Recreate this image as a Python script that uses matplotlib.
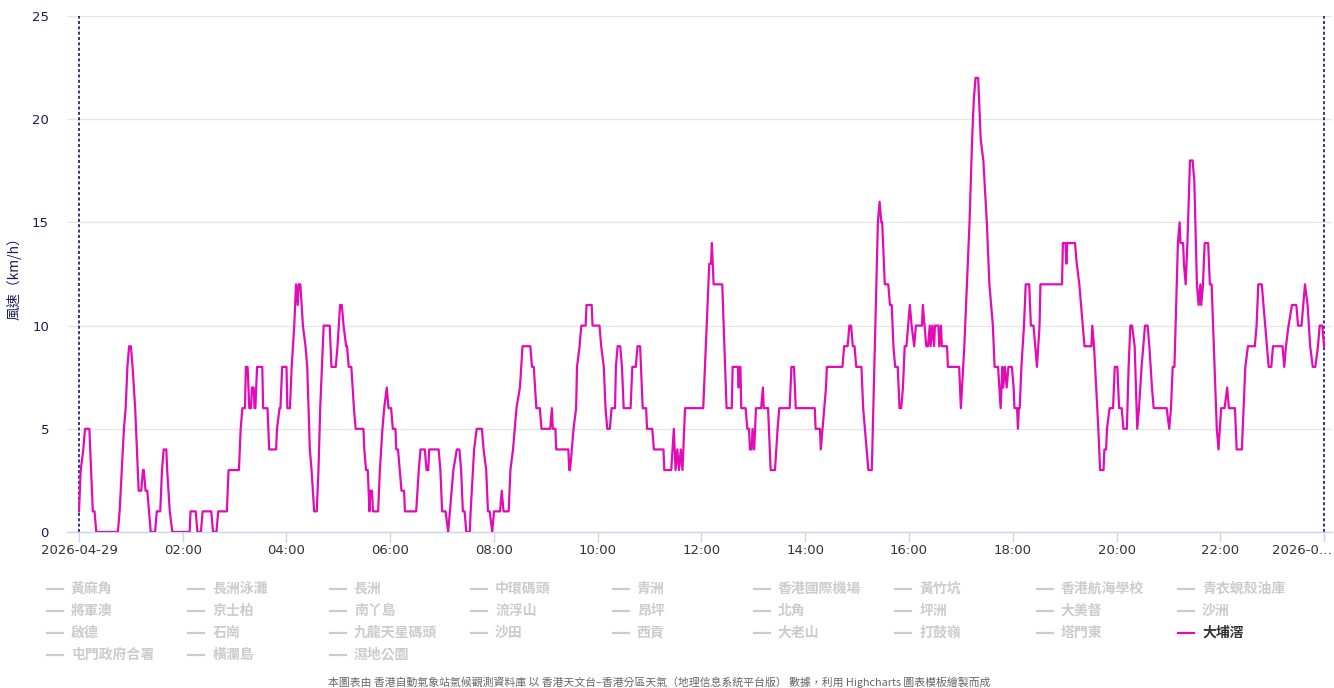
import matplotlib.pyplot as plt
from matplotlib.lines import Line2D
from matplotlib.transforms import ScaledTranslation

plt.rcParams["font.family"] = ["Noto Sans CJK TC", "DejaVu Sans"]

# 大埔滘 wind speed (km/h), 2026-04-29, one entry per change of the reading
times = [
    "00:00", "00:02", "00:05", "00:07", "00:12", "00:13", "00:16", "00:18", "00:20", "00:45",
    "00:47", "00:52", "00:54", "00:56", "00:58", "01:00", "01:02", "01:05", "01:09", "01:12",
    "01:14", "01:15", "01:17", "01:19", "01:21", "01:23", "01:28", "01:30", "01:34", "01:36",
    "01:38", "01:41", "01:42", "01:45", "01:48", "02:08", "02:09", "02:15", "02:17", "02:21",
    "02:23", "02:33", "02:35", "02:39", "02:41", "02:51", "02:53", "03:05", "03:06", "03:07",
    "03:09", "03:12", "03:13", "03:15", "03:17", "03:19", "03:20", "03:22", "03:23", "03:24",
    "03:26", "03:32", "03:33", "03:38", "03:40", "03:48", "03:49", "03:52", "03:53", "03:55",
    "04:00", "04:01", "04:04", "04:06", "04:09", "04:11", "04:13", "04:14", "04:16", "04:19",
    "04:22", "04:24", "04:27", "04:29", "04:32", "04:35", "04:37", "04:39", "04:43", "04:50",
    "04:52", "04:57", "04:59", "05:02", "05:04", "05:06", "05:09", "05:10", "05:12", "05:15",
    "05:18", "05:20", "05:29", "05:30", "05:32", "05:34", "05:36", "05:37", "05:39", "05:40",
    "05:46", "05:48", "05:51", "05:53", "05:56", "05:58", "06:01", "06:03", "06:06", "06:07",
    "06:09", "06:11", "06:13", "06:16", "06:17", "06:30", "06:33", "06:35", "06:40", "06:42",
    "06:44", "06:45", "06:56", "06:58", "07:00", "07:04", "07:07", "07:09", "07:13", "07:17",
    "07:20", "07:22", "07:24", "07:26", "07:28", "07:32", "07:33", "07:37", "07:40", "07:46",
    "07:48", "07:51", "07:53", "07:55", "07:58", "08:00", "08:07", "08:09", "08:11", "08:17",
    "08:19", "08:22", "08:26", "08:30", "08:33", "08:42", "08:44", "08:46", "08:49", "08:53",
    "08:55", "09:05", "09:07", "09:08", "09:11", "09:12", "09:26", "09:27", "09:28", "09:30",
    "09:32", "09:35", "09:36", "09:39", "09:41", "09:46", "09:47", "09:53", "09:54", "10:02",
    "10:04", "10:07", "10:09", "10:11", "10:14", "10:16", "10:20", "10:21", "10:23", "10:26",
    "10:28", "10:30", "10:38", "10:40", "10:44", "10:46", "10:49", "10:50", "10:52", "10:56",
    "10:57", "11:03", "11:05", "11:16", "11:17", "11:25", "11:28", "11:30", "11:32", "11:34",
    "11:36", "11:38", "11:39", "11:41", "12:02", "12:09", "12:11", "12:12", "12:13", "12:14",
    "12:24", "12:29", "12:35", "12:36", "12:42", "12:43", "12:44", "12:45", "12:46", "12:51",
    "12:53", "12:55", "12:56", "12:58", "12:59", "13:01", "13:03", "13:09", "13:11", "13:12",
    "13:17", "13:20", "13:25", "13:28", "13:30", "13:42", "13:44", "13:47", "13:49", "14:11",
    "14:12", "14:17", "14:18", "14:20", "14:22", "14:24", "14:25", "14:43", "14:45", "14:49",
    "14:51", "14:53", "14:55", "14:57", "14:59", "15:05", "15:07", "15:09", "15:11", "15:13",
    "15:17", "15:24", "15:26", "15:28", "15:29", "15:30", "15:32", "15:36", "15:38", "15:40",
    "15:42", "15:44", "15:47", "15:49", "15:51", "15:53", "15:55", "15:57", "15:59", "16:01",
    "16:03", "16:06", "16:08", "16:15", "16:16", "16:18", "16:20", "16:22", "16:24", "16:25",
    "16:27", "16:29", "16:30", "16:34", "16:35", "16:37", "16:38", "16:44", "16:45", "16:58",
    "17:00", "17:04", "17:10", "17:13", "17:15", "17:17", "17:20", "17:21", "17:23", "17:26",
    "17:30", "17:33", "17:37", "17:39", "17:43", "17:46", "17:48", "17:49", "17:51", "17:53",
    "17:55", "17:59", "18:01", "18:02", "18:05", "18:06", "18:07", "18:08", "18:10", "18:13",
    "18:15", "18:19", "18:21", "18:24", "18:26", "18:28", "18:31", "18:32", "18:57", "18:58",
    "19:01", "19:02", "19:03", "19:12", "19:14", "19:17", "19:19", "19:23", "19:31", "19:32",
    "19:34", "19:39", "19:41", "19:45", "19:46", "19:48", "19:49", "19:52", "19:56", "19:58",
    "20:01", "20:03", "20:06", "20:08", "20:12", "20:14", "20:16", "20:18", "20:21", "20:24",
    "20:26", "20:29", "20:31", "20:33", "20:36", "20:38", "20:41", "20:43", "20:58", "21:01",
    "21:03", "21:05", "21:07", "21:11", "21:13", "21:14", "21:17", "21:18", "21:20", "21:22",
    "21:25", "21:28", "21:30", "21:33", "21:35", "21:37", "21:38", "21:40", "21:42", "21:46",
    "21:48", "21:50", "21:56", "21:58", "22:01", "22:05", "22:08", "22:10", "22:17", "22:19",
    "22:25", "22:27", "22:29", "22:32", "22:40", "22:42", "22:44", "22:48", "22:50", "22:52",
    "22:56", "22:59", "23:01", "23:12", "23:14", "23:16", "23:19", "23:23", "23:28", "23:30",
    "23:34", "23:36", "23:38", "23:41", "23:44", "23:47", "23:50", "23:53", "23:55", "23:58",
    "24:00",
]
speeds = [
    1, 3, 4, 5, 5, 4, 1, 1, 0, 0,
    1, 5, 6, 8, 9, 9, 8, 6, 2, 2,
    3, 3, 2, 2, 1, 0, 0, 1, 1, 3,
    4, 4, 3, 1, 0, 0, 1, 1, 0, 0,
    1, 1, 0, 0, 1, 1, 3, 3, 4, 5,
    6, 6, 8, 8, 6, 6, 7, 7, 6, 6,
    8, 8, 6, 6, 4, 4, 5, 6, 6, 8,
    8, 6, 6, 8, 10, 12, 11, 12, 12, 10,
    9, 8, 4, 3, 1, 1, 3, 6, 10, 10,
    8, 8, 9, 11, 11, 10, 9, 9, 8, 8,
    6, 5, 5, 4, 3, 3, 1, 2, 2, 1,
    1, 3, 5, 6, 7, 6, 6, 5, 5, 4,
    4, 3, 2, 2, 1, 1, 3, 4, 4, 3,
    3, 4, 4, 3, 1, 1, 0, 1, 3, 4,
    4, 3, 1, 1, 0, 0, 1, 4, 5, 5,
    4, 3, 1, 1, 0, 1, 1, 2, 1, 1,
    3, 4, 6, 7, 9, 9, 8, 8, 6, 6,
    5, 5, 6, 5, 5, 4, 4, 3, 3, 4,
    5, 6, 8, 9, 10, 10, 11, 11, 10, 10,
    9, 8, 6, 5, 5, 6, 6, 8, 9, 9,
    8, 6, 6, 8, 8, 9, 9, 8, 6, 6,
    5, 5, 4, 4, 3, 3, 5, 3, 4, 3,
    4, 3, 4, 6, 6, 13, 13, 14, 13, 12,
    12, 6, 6, 8, 8, 7, 8, 8, 6, 6,
    5, 5, 4, 4, 5, 4, 6, 6, 7, 6,
    6, 3, 3, 5, 6, 6, 8, 8, 6, 6,
    5, 5, 4, 5, 6, 7, 8, 8, 9, 9,
    10, 10, 9, 9, 8, 8, 6, 5, 4, 3,
    3, 15, 16, 15, 15, 14, 12, 12, 11, 11,
    9, 8, 8, 6, 6, 7, 9, 9, 10, 11,
    10, 9, 10, 10, 11, 10, 9, 9, 10, 9,
    10, 9, 10, 10, 9, 10, 9, 9, 8, 8,
    6, 9, 15, 19, 21, 22, 22, 21, 19, 18,
    15, 12, 10, 8, 8, 6, 8, 7, 8, 7,
    8, 8, 7, 6, 6, 5, 6, 6, 8, 10,
    12, 12, 10, 10, 9, 8, 10, 12, 12, 14,
    14, 13, 14, 14, 13, 12, 11, 9, 9, 10,
    9, 5, 3, 3, 4, 4, 5, 6, 6, 8,
    8, 6, 6, 5, 5, 8, 10, 10, 9, 5,
    6, 8, 9, 10, 10, 9, 7, 6, 6, 5,
    6, 8, 8, 14, 15, 14, 14, 13, 12, 14,
    18, 18, 17, 12, 11, 12, 11, 12, 14, 14,
    12, 12, 5, 4, 6, 6, 7, 6, 6, 4,
    4, 6, 8, 9, 9, 10, 12, 12, 11, 10,
    8, 8, 9, 9, 8, 9, 10, 11, 11, 10,
    10, 11, 12, 11, 9, 8, 8, 9, 10, 10,
    9,
]

# legend entries, laid out row by row in nine columns
stations = [
    "黃麻角", "長洲泳灘", "長洲", "中環碼頭", "青洲", "香港國際機場", "黃竹坑", "香港航海學校", "青衣蜆殼油庫",
    "將軍澳", "京士柏", "南丫島", "流浮山", "昂坪", "北角", "坪洲", "大美督", "沙洲",
    "啟德", "石崗", "九龍天星碼頭", "沙田", "西貢", "大老山", "打鼓嶺", "塔門東", "大埔滘",
    "屯門政府合署", "橫瀾島", "濕地公園",
]
active_station = "大埔滘"

x_ticks = list(range(0, 25, 2))
x_labels = ["2026-04-29"] + [f"{h:02d}:00" for h in range(2, 24, 2)] + ["2026-0…"]
y_ticks = [0, 5, 10, 15, 20, 25]

credit = ("本圖表由 香港自動氣象站氣候觀測資料庫 以 香港天文台–香港分區天氣（地理信息系統平台版） "
          "數據，利用 Highcharts 圖表模板繪製而成")

SERIES_COLOR = "#e10cb6"
HIDDEN_COLOR = "#cccccc"


def to_hours(t):
    h, m = t.split(":")
    return int(h) + int(m) / 60


hours = [to_hours(t) for t in times]

W, H = 1334, 688
fig = plt.figure(figsize=(W / 100, H / 100), dpi=100)
ax = fig.add_axes([67 / W, 1 - 532 / H, (1332 - 67) / W, (532 - 16) / H])

ax.plot(hours, speeds, color=SERIES_COLOR, lw=1.6, solid_joinstyle="round", zorder=3)

# day boundaries
for b in (0, 24):
    ax.axvline(b, color="#000066", lw=1.1, ls=(0, (2, 1.5)), zorder=2)

ax.set_xlim(-0.231, 24.154)
ax.set_ylim(0, 25)
ax.set_xticks(x_ticks)
ax.set_xticklabels(x_labels, fontfamily="DejaVu Sans", fontsize=9.5, color="#333333")
ax.set_yticks(y_ticks)
ax.set_yticklabels([str(v) for v in y_ticks], fontfamily="DejaVu Sans", fontsize=9.5, color="#1c1c5c")
ax.tick_params(axis="x", length=7, width=1, color="#ccd6eb", pad=1.5)
ax.tick_params(axis="y", length=0, pad=13)

# the last date label is pulled left so it stays inside the figure
last = ax.get_xticklabels()[-1]
last.set_horizontalalignment("right")
last.set_transform(last.get_transform() + ScaledTranslation(8 / 100, 0, fig.dpi_scale_trans))

ax.yaxis.grid(True, color="#e6e6e6", lw=1)
ax.set_axisbelow(True)
for side in ("top", "right", "left"):
    ax.spines[side].set_visible(False)
ax.spines["bottom"].set_color("#ccd6eb")
ax.spines["bottom"].set_linewidth(1)

fig.text(14 / W, 1 - 275 / H, "風速（km/h）", rotation=90, ha="center", va="center",
         fontsize=10, color="#1c1c5c")

# legend grid
for i, name in enumerate(stations):
    r, c = divmod(i, 9)
    x = 47 + c * 141.4
    y = 1 - (589 + r * 22) / H
    on = name == active_station
    fig.add_artist(Line2D([x / W, (x + 16) / W], [y, y], color=SERIES_COLOR if on else HIDDEN_COLOR, lw=1.6))
    fig.text((x + 24) / W, y, name, ha="left", va="center", fontsize=10, fontweight="bold",
             color="#333333" if on else HIDDEN_COLOR)

fig.text(659 / W, 1 - 682 / H, credit, ha="center", va="center", fontsize=7.8, color="#666666")

fig.savefig("out.png", dpi=100)
plt.close(fig)
